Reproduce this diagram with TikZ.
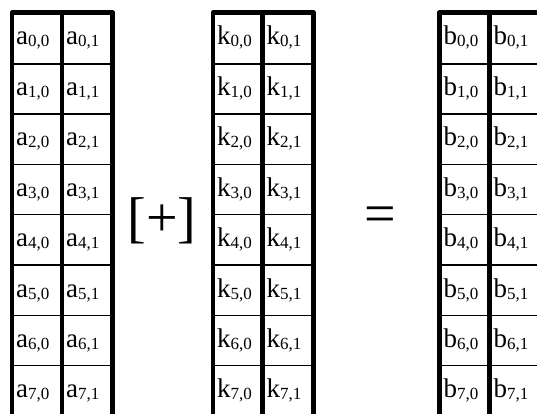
\documentclass[tikz,border=0pt]{standalone}
\usepackage{fontspec}
\setmainfont{Liberation Serif}
\newcommand{\cellsub}[2]{#1\raisebox{-2pt}{\fontsize{17}{17}\selectfont #2}}
\begin{document}
\begin{tikzpicture}[x=1pt,y=-1pt,
  thickline/.style={line width=4.5pt, line join=round},
  thinline/.style={line width=1.5pt},
  celltxt/.style={anchor=base west, inner sep=0pt, font=\fontsize{27}{30}\selectfont},
  optxt/.style={anchor=base, inner sep=0pt, font=\fontsize{56}{60}\selectfont}]
\useasboundingbox (0,0) rectangle (537,414);
\clip (0,0) rectangle (537,414);
\foreach \L/\M/\R/\ch in {12/62/112.5/a, 213/262.5/313.5/k, 439.5/489.5/540/b} {
  \foreach \r in {1,...,7} {
    \draw[thinline] (\L,{13.5+50.3*\r}) -- (\R,{13.5+50.3*\r});
  }
  \draw[thickline] (\L,420) -- (\L,12.5) -- (\R,12.5) -- (\R,420);
  \draw[thickline] (\M,12.5) -- (\M,420);
  \foreach \r in {0,...,7} {
    \node[celltxt] (\ch-\r-0) at ({\L+4},{45+50.4*\r}) {\cellsub{\ch}{\r,0}};
    \node[celltxt] (\ch-\r-1) at ({\M+4},{45+50.4*\r}) {\cellsub{\ch}{\r,1}};
  }
}
\node[optxt] (plus) at (162,236) {[+]};
\node[optxt] (eq) at (380,232) {=};
\end{tikzpicture}
\end{document}
